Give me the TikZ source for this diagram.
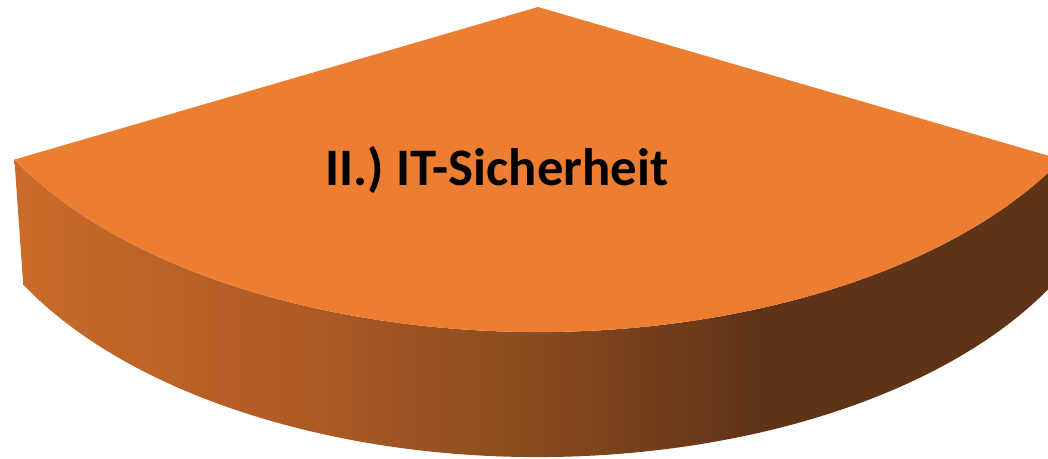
\documentclass[tikz,border=0pt]{standalone}
\usepackage{fontspec}
\setmainfont{Carlito}
\definecolor{toporange}{RGB}{237,125,49}
\definecolor{rimA}{RGB}{203,107,43}
\definecolor{rimB}{RGB}{174,91,36}
\definecolor{rimC}{RGB}{137,74,31}
\definecolor{rimD}{RGB}{94,51,22}
\pgfdeclarehorizontalshading{rimshade}{100bp}{color(0bp)=(rimA); color(25bp)=(rimA);
  color(38.6bp)=(rimB); color(50bp)=(rimC); color(60.6bp)=(rimD); color(100bp)=(rimD)}
\tikzset{
  topface/.style = {fill=toporange},
  rim/.style = {shading=rimshade},
  slicetext/.style = {font=\bfseries\fontsize{30}{36}\selectfont, anchor=base}
}

\begin{document}
\begin{tikzpicture}[x=0.02cm,y=-0.02cm]
  \useasboundingbox (0,0) rectangle (1048,458);
  \clip (0,0) rectangle (1048,458);
  \coordinate (apex) at (538,7);
  \coordinate (base) at (538,132);
  \path (apex) ++(152:593 and 325) coordinate (topL);
  \path (base) ++(28:583 and 325) coordinate (botR);
  % side of the slice
  \shade[rim] (topL) arc[start angle=152, end angle=28, x radius=593, y radius=325]
    -- (botR) arc[start angle=28, end angle=152, x radius=583, y radius=325] -- cycle;
  % top of the slice
  \fill[topface] (apex) -- (topL)
    arc[start angle=152, end angle=28, x radius=593, y radius=325] -- cycle;
  \node[slicetext] (title) at (497,185) {II.) IT-Sicherheit};
\end{tikzpicture}
\end{document}
